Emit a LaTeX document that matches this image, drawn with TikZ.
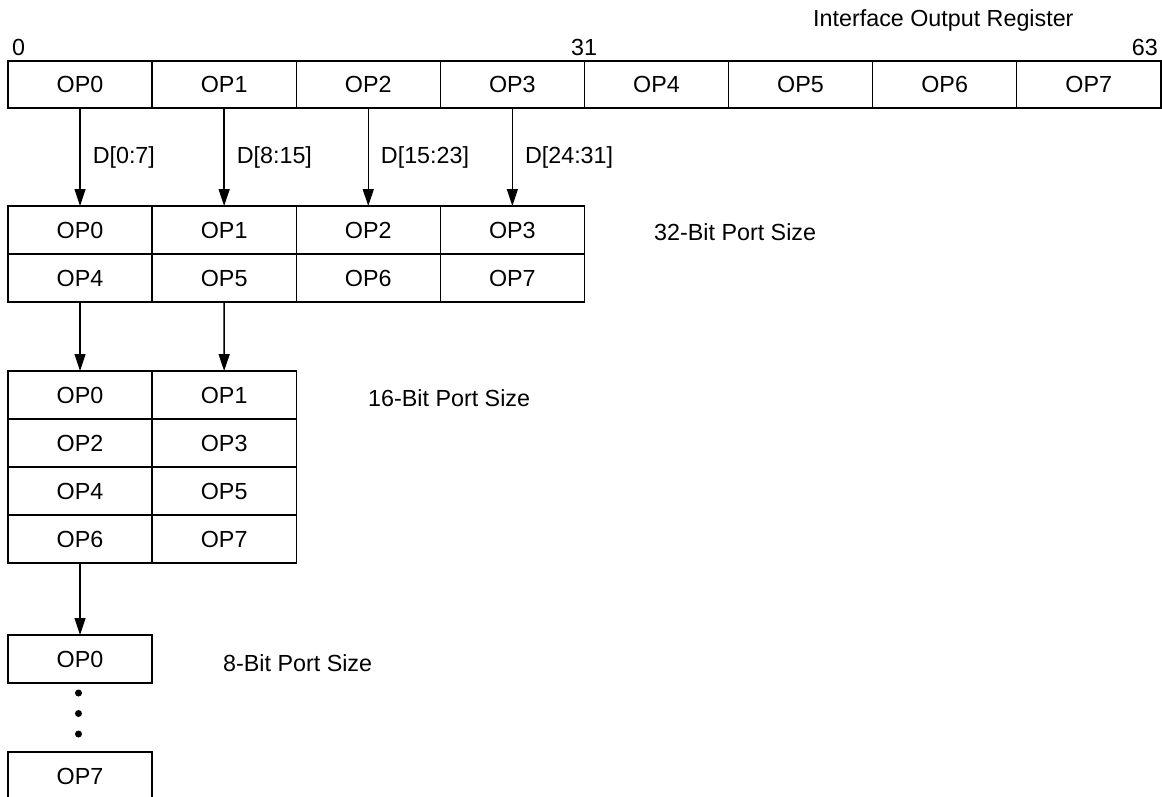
\documentclass[tikz,border=0pt]{standalone}
\usepackage{fontspec}
\setmainfont{Liberation Sans}
\usetikzlibrary{arrows.meta}
\begin{document}
\begin{tikzpicture}[x=1pt,y=-1pt,
  every node/.style={font=\fontsize{23.3}{28}\selectfont},
  cell/.style={draw,line width=1.4pt,minimum width=144.1pt,inner sep=0pt,outer sep=0pt},
  rowA/.style={cell,minimum height=47pt},
  rowB/.style={cell,minimum height=48pt},
  lbl/.style={inner sep=0pt,anchor=west},
  arr/.style={line width=1.4pt,-{Triangle[length=17pt,width=11pt]}},
  dotf/.style={circle,fill,inner sep=0pt,minimum size=7pt}]
\useasboundingbox (0,0) rectangle (1162,797);
% Interface output register
\foreach \i in {0,...,7} {
  \node[rowA] (r\i) at ({8+144.1*\i+72.05},84.5) {OP\i};
}
\node[lbl] (title) at (813,20) {Interface Output Register};
\node[lbl] (n0) at (12,47) {0};
\node[inner sep=0pt] (n31) at (584,47) {31};
\node[inner sep=0pt,anchor=east] (n63) at (1158,47) {63};
% 32-bit
\foreach \i in {0,...,3} {
  \node[rowB] (a\i) at ({8+144.1*\i+72.05},230) {OP\i};
}
\foreach \i/\j in {4/0,5/1,6/2,7/3} {
  \node[rowB] (a\i) at ({8+144.1*\j+72.05},278) {OP\i};
}
\node[lbl] (l32) at (654,232) {32-Bit Port Size};
% 16-bit
\foreach \i/\r in {0/0,2/1,4/2,6/3} {
  \node[rowB] (b\i) at (80.05,{395+48*\r}) {OP\i};
}
\foreach \i/\r in {1/0,3/1,5/2,7/3} {
  \node[rowB] (b\i) at (224.15,{395+48*\r}) {OP\i};
}
\node[lbl] (l16) at (368,398) {16-Bit Port Size};
% 8-bit
\node[rowB] (c0) at (80.05,659) {OP0};
\node[rowB] (c7) at (80.05,776) {OP7};
\node[lbl] (l8) at (223,663) {8-Bit Port Size};
\node[dotf] (d1) at (78.5,693) {};
\node[dotf] (d2) at (78.5,713.5) {};
\node[dotf] (d3) at (78.5,734) {};
% arrows
\draw[arr] (r0.south) -- node[lbl,xshift=12pt] (t0) {D[0:7]} (a0.north);
\draw[arr] (r1.south) -- node[lbl,xshift=12pt] (t1) {D[8:15]} (a1.north);
\draw[arr] (r2.south) -- node[lbl,xshift=12pt] (t2) {D[15:23]} (a2.north);
\draw[arr] (r3.south) -- node[lbl,xshift=12pt] (t3) {D[24:31]} (a3.north);
\draw[arr] (a4.south) -- (b0.north);
\draw[arr] (a5.south) -- (b1.north);
\draw[arr] (b6.south) -- (c0.north);
\end{tikzpicture}
\end{document}
